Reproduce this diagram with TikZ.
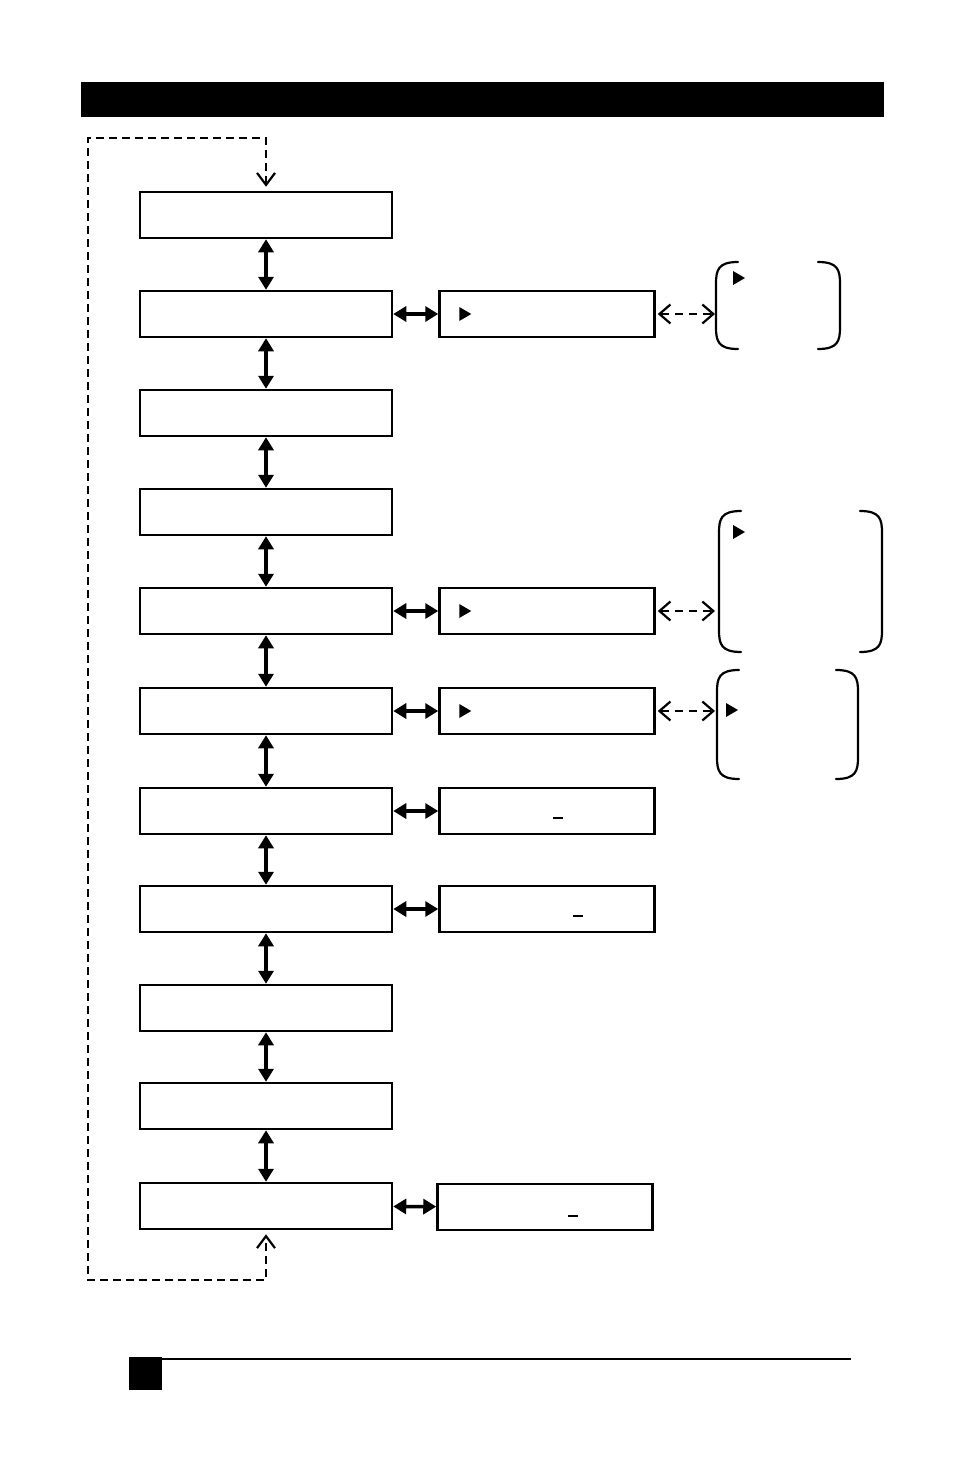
\documentclass[tikz,border=0pt]{standalone}
\usetikzlibrary{arrows.meta}

\tikzset{
  menubox/.style={draw, line width=2.5pt, minimum width=252pt, minimum height=46pt, inner sep=0pt},
  subbox/.style={draw, line width=2.5pt, minimum width=215pt, minimum height=46pt, inner sep=0pt},
  twoway/.style={line width=3.5pt, {Triangle[length=13pt,width=15pt]}-{Triangle[length=13pt,width=15pt]}},
  optway/.style={line width=2.2pt, dash pattern=on 8pt off 6pt, shorten <=2pt,
    {Straight Barb[length=11pt,width=19pt]}-{Straight Barb[length=11pt,width=19pt]}},
  loopline/.style={line width=2.2pt, dash pattern=on 8pt off 5pt, shorten <=4pt, shorten >=4pt,
    {Straight Barb[length=12pt,width=18pt]}-{Straight Barb[length=12pt,width=18pt]}},
  paren/.style={line width=2.2pt, line cap=round},
}

\begin{document}
\begin{tikzpicture}[x=1pt, y=-1pt, line join=miter]

	\useasboundingbox (0,0) rectangle (954,1474);

	% Header bar
	\fill (81,82) rectangle (884,117);

	% Menu column
	\foreach \i/\y in {1/215, 2/314, 3/413, 4/512, 5/611, 6/711, 7/811, 8/909, 9/1008, 10/1106, 11/1206} {
		\node[menubox] (m\i) at (266,\y) {};
	}

	% Sub-menu boxes
	\node[subbox] (s2) at (547,314) {};
	\node[subbox] (s5) at (547,611) {};
	\node[subbox] (s6) at (547,711) {};
	\node[subbox] (s7) at (547,811) {};
	\node[subbox] (s8) at (547,909) {};
	\node[subbox] (s11) at (545,1207) {};

	% Vertical links
	\foreach \i/\j in {1/2, 2/3, 3/4, 4/5, 5/6, 6/7, 7/8, 8/9, 9/10, 10/11} {
		\draw[twoway] (m\i) -- (m\j);
	}

	% Horizontal links
	\foreach \i in {2, 5, 6, 7, 8, 11} {
		\draw[twoway] (m\i) -- (s\i);
	}

	% Pointer marks in sub-menus
	\foreach \i in {2, 5, 6} {
		\fill ([xshift=21pt]s\i.west) ++(0,-7) -- ++(12,7) -- ++(-12,7) -- cycle;
	}

	% Cursor marks
	\draw[line width=1.5pt] ([shift={(6,7)}]s7.center) -- ++(10,0);
	\draw[line width=1.5pt] ([shift={(26,7)}]s8.center) -- ++(10,0);
	\draw[line width=1.5pt] ([shift={(23,9)}]s11.center) -- ++(10,0);

	% Option lists
	\foreach \l/\r/\t/\b in {716/840/262/349, 719/882/511/652, 717/858/670/779} {
		\draw[paren] (\l+22,\t) .. controls (\l+2,\t) and (\l,\t+8) .. (\l,\t+22) -- (\l,\b-22) .. controls (\l,\b-8) and (\l+2,\b) .. (\l+22,\b);
		\draw[paren] (\r-22,\t) .. controls (\r-2,\t) and (\r,\t+8) .. (\r,\t+22) -- (\r,\b-22) .. controls (\r,\b-8) and (\r-2,\b) .. (\r-22,\b);
	}
	\foreach \x/\y in {733/278, 733/532, 726/710} {
		\fill (\x,\y-7) -- (\x+12,\y) -- (\x,\y+7) -- cycle;
	}

	% Links to option lists
	\coordinate (o2) at (715,314);
	\coordinate (o5) at (715,611);
	\coordinate (o6) at (715,711);
	\foreach \i in {2, 5, 6} {
		\draw[optway] (s\i.east) -- (o\i);
	}

	% Wrap-around loop
	\coordinate (loopTL) at (88,138);
	\coordinate (loopBL) at (88,1280);
	\draw[loopline] (m1.north) |- (loopTL) -- (loopBL) -| (m11.south);

	% Footer
	\fill (129,1357) rectangle (162,1390);
	\draw[line width=2.5pt] (162,1359) -- (851,1359);

\end{tikzpicture}
\end{document}
